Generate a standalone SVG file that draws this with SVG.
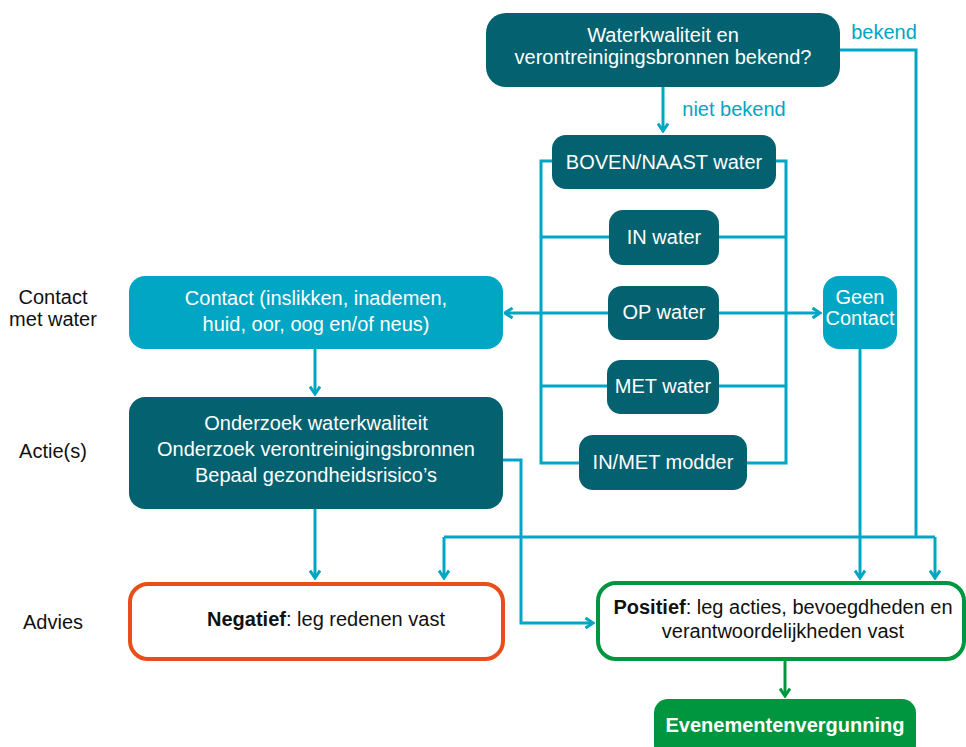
<svg xmlns="http://www.w3.org/2000/svg" width="966" height="747" viewBox="0 0 966 747">
<style>
  text { font-family: "Liberation Sans", Arial, sans-serif; font-size: 20px; text-anchor: middle; }
  .dark { fill: #04616F; }
  .light { fill: #00A6C3; }
  .wt { fill: #FFFFFF; }
  .bt { fill: #111111; }
  .lbl { fill: #00A6C3; }
  .con { fill: none; stroke: #00A6C3; stroke-width: 3; }
  .gcon { fill: none; stroke: #009640; stroke-width: 3; }
  .arr { marker-end: url(#ah); }
</style>
<defs>
  <marker id="ah" viewBox="0 0 12 12" refX="10.5" refY="6" markerWidth="12" markerHeight="12" markerUnits="userSpaceOnUse" orient="auto-start-reverse">
    <path d="M3,1 L10.5,6 L3,11" fill="none" stroke="#00A6C3" stroke-width="3"/>
  </marker>
  <marker id="gah" viewBox="0 0 12 12" refX="10.5" refY="6" markerWidth="12" markerHeight="12" markerUnits="userSpaceOnUse" orient="auto">
    <path d="M3,1 L10.5,6 L3,11" fill="none" stroke="#009640" stroke-width="3"/>
  </marker>
</defs>
<rect width="966" height="747" fill="#FFFFFF"/>

<g id="connectors">
  <path class="con arr" d="M663,87 V131"/>
  <path class="con" d="M840,50 H916 V537"/>
  <path class="con" d="M444,537 H935"/>
  <path class="con arr" d="M444,537 V578"/>
  <path class="con arr" d="M935,537 V578"/>
  <path class="con" d="M552,161 H541 V463 H579"/>
  <path class="con" d="M541,237 H609"/>
  <path class="con" d="M541,386 H607"/>
  <path class="con" d="M776,161 H786 V463 H747"/>
  <path class="con" d="M719,237 H786"/>
  <path class="con" d="M719,386 H786"/>
  <path class="con" d="M505,313 H608" marker-start="url(#ah)"/>
  <path class="con arr" d="M719,313 H820"/>
  <path class="con arr" d="M860,349 V578"/>
  <path class="con arr" d="M315,349 V394"/>
  <path class="con arr" d="M315,509 V578"/>
  <path class="con arr" d="M503,460 H521 V623 H593"/>
  <path class="gcon" d="M785,660 V696" marker-end="url(#gah)"/>
  <text class="lbl" x="884" y="39">bekend</text>
  <text class="lbl" x="734" y="116">niet bekend</text>
</g>

<g id="n-question">
  <rect class="dark" x="486" y="13" width="354" height="74" rx="20"/>
  <text class="wt" x="663" y="42">Waterkwaliteit en</text>
  <text class="wt" x="663" y="64">verontreinigingsbronnen bekend?</text>
</g>
<g id="n-boven">
  <rect class="dark" x="552" y="135" width="224" height="54" rx="14"/>
  <text class="wt" x="664" y="169">BOVEN/NAAST water</text>
</g>
<g id="n-in">
  <rect class="dark" x="609" y="210" width="110" height="55" rx="14"/>
  <text class="wt" x="664" y="244">IN water</text>
</g>
<g id="n-op">
  <rect class="dark" x="608" y="286" width="111" height="54" rx="14"/>
  <text class="wt" x="664" y="319">OP water</text>
</g>
<g id="n-met">
  <rect class="dark" x="607" y="360" width="112" height="54" rx="14"/>
  <text class="wt" x="663" y="393">MET water</text>
</g>
<g id="n-modder">
  <rect class="dark" x="579" y="435" width="168" height="55" rx="14"/>
  <text class="wt" x="663" y="469">IN/MET modder</text>
</g>
<g id="n-geen">
  <rect class="light" x="823" y="276" width="74" height="73" rx="16"/>
  <text class="wt" x="860" y="304">Geen</text>
  <text class="wt" x="860" y="325">Contact</text>
</g>
<g id="n-contact">
  <rect class="light" x="129" y="276" width="374" height="73" rx="16"/>
  <text class="wt" x="316" y="305">Contact (inslikken, inademen,</text>
  <text class="wt" x="316" y="331">huid, oor, oog en/of neus)</text>
</g>
<g id="n-onderzoek">
  <rect class="dark" x="129" y="397" width="374" height="112" rx="16"/>
  <text class="wt" x="316" y="430">Onderzoek waterkwaliteit</text>
  <text class="wt" x="316" y="456">Onderzoek verontreinigingsbronnen</text>
  <text class="wt" x="316" y="482">Bepaal gezondheidsrisico’s</text>
</g>
<g id="n-negatief">
  <rect x="130" y="584" width="373" height="75" rx="18" fill="#FFFFFF" stroke="#E84E1B" stroke-width="4"/>
  <text class="bt" x="326" y="626"><tspan font-weight="bold">Negatief</tspan>: leg redenen vast</text>
</g>
<g id="n-positief">
  <rect x="598" y="583" width="366" height="76" rx="18" fill="#FFFFFF" stroke="#009640" stroke-width="4"/>
  <text class="bt" x="783" y="614"><tspan font-weight="bold">Positief</tspan>: leg acties, bevoegdheden en</text>
  <text class="bt" x="783" y="638">verantwoordelijkheden vast</text>
</g>
<g id="n-evenement">
  <rect x="654" y="699" width="262" height="60" rx="14" fill="#009640"/>
  <text class="wt" x="785" y="732" font-weight="bold" font-size="19">Evenementenvergunning</text>
</g>
<g id="labels">
  <text class="bt" x="53" y="304">Contact</text>
  <text class="bt" x="53" y="326">met water</text>
  <text class="bt" x="53" y="458">Actie(s)</text>
  <text class="bt" x="53" y="629">Advies</text>
</g>
</svg>
